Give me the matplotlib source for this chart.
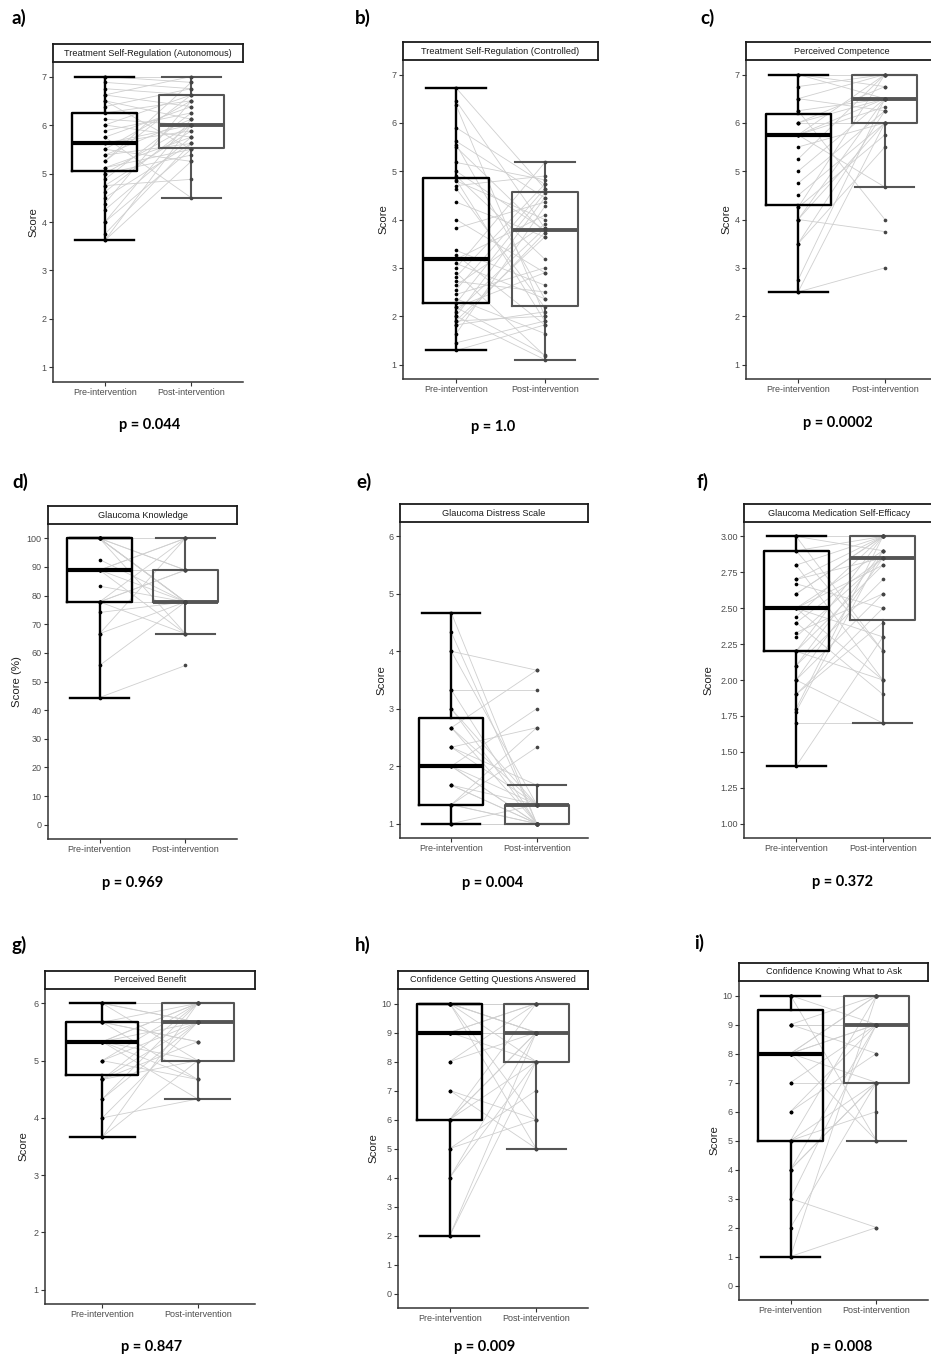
import numpy as np
import matplotlib
matplotlib.use('Agg')
import matplotlib.pyplot as plt

plt.rcParams['font.family'] = ['Liberation Sans', 'DejaVu Sans']

# ---------------- data ----------------
groups = ['Pre-intervention', 'Post-intervention']
letters = ['a)', 'b)', 'c)', 'd)', 'e)', 'f)', 'g)', 'h)', 'i)']
titles = ['Treatment Self-Regulation (Autonomous)', 'Treatment Self-Regulation (Controlled)',
          'Perceived Competence', 'Glaucoma Knowledge', 'Glaucoma Distress Scale',
          'Glaucoma Medication Self-Efficacy', 'Perceived Benefit',
          'Confidence Getting Questions Answered', 'Confidence Knowing What to Ask']
pvalues = ['p = 0.044', 'p = 1.0', 'p = 0.0002', 'p = 0.969', 'p = 0.004',
           'p = 0.372', 'p = 0.847', 'p = 0.009', 'p = 0.008']
ylabels = ['Score', 'Score', 'Score', 'Score (%)', 'Score', 'Score', 'Score', 'Score', 'Score']

# box statistics [whisker low, Q1, median, Q3, whisker high]
box_pre = [
    [3.62, 5.06, 5.62, 6.25, 7.0],
    [1.29, 2.27, 3.18, 4.86, 6.72],
    [2.5, 4.31, 5.75, 6.19, 7.0],
    [44.4, 77.8, 88.9, 100.0, 100.0],
    [1.0, 1.33, 2.0, 2.83, 4.67],
    [1.4, 2.2, 2.5, 2.9, 3.0],
    [3.67, 4.75, 5.33, 5.67, 6.0],
    [2.0, 6.0, 9.0, 10.0, 10.0],
    [1.0, 5.0, 8.0, 9.5, 10.0],
]
box_post = [
    [4.5, 5.53, 6.0, 6.62, 7.0],
    [1.1, 2.22, 3.78, 4.56, 5.18],
    [4.67, 6.0, 6.5, 7.0, 7.0],
    [66.7, 77.8, 77.8, 88.9, 100.0],
    [1.0, 1.0, 1.33, 1.33, 1.67],
    [1.7, 2.42, 2.85, 3.0, 3.0],
    [4.33, 5.0, 5.67, 6.0, 6.0],
    [5.0, 8.0, 9.0, 10.0, 10.0],
    [5.0, 7.0, 9.0, 10.0, 10.0],
]

pre_a = [7.0, 7.0, 6.88, 6.75, 6.62, 6.62, 6.5, 6.5, 6.38, 6.25, 6.12, 6.0, 6.0, 5.88, 5.75, 5.75, 5.62, 5.62, 5.5, 5.5,
         5.38, 5.38, 5.25, 5.12, 5.12, 5.0, 5.0, 4.88, 4.75, 4.75, 4.62, 4.5, 4.38, 4.25, 4.0, 4.0, 3.75, 3.62, 3.62, 5.25]
post_a = [7.0, 6.88, 6.75, 6.62, 6.38, 7.0, 6.12, 5.5, 6.75, 6.5, 6.0, 6.62, 5.75, 6.25, 4.5, 6.38, 6.0, 5.88, 6.5, 5.25,
          6.12, 5.62, 6.88, 5.5, 5.75, 6.0, 5.38, 6.25, 5.88, 4.88, 6.0, 5.62, 6.5, 5.75, 5.5, 6.12, 5.62, 5.25, 6.0, 6.62]

pre_b = [6.72, 6.45, 6.36, 5.9, 5.62, 5.55, 5.5, 5.18, 4.9, 4.82, 4.8, 4.7, 4.64, 4.36, 3.82, 3.36, 3.27, 3.18, 3.0, 2.9,
         2.82, 2.72, 2.64, 2.45, 2.36, 2.27, 2.18, 2.09, 2.0, 2.0, 1.9, 1.82, 1.82, 1.45, 1.29, 2.55, 3.09, 1.91, 2.18,
         4.0, 5.0, 1.64]
post_b = [4.64, 3.82, 2.0, 4.73, 4.45, 2.36, 3.73, 4.82, 3.18, 1.9, 4.0, 4.9, 2.18, 3.64, 4.36, 2.64, 1.82, 4.09, 5.18,
          1.18, 4.73, 2.5, 3.9, 3.0, 1.64, 4.55, 2.9, 3.82, 1.1, 4.45, 2.0, 3.73, 2.09, 1.9, 1.82, 4.64, 2.36, 3.64,
          1.2, 2.9, 3.78, 4.27]

pre_c = [7.0, 7.0, 6.75, 6.5, 6.5, 6.25, 6.25, 6.0, 6.0, 5.75, 5.75, 5.75, 5.75, 5.5, 5.25, 5.0, 4.75, 4.5, 4.25, 4.25,
         4.0, 4.0, 4.0, 3.5, 3.5, 2.75, 2.5, 2.5, 6.0, 7.0]
post_c = [7.0, 6.5, 7.0, 6.25, 7.0, 6.5, 4.0, 6.75, 6.0, 7.0, 4.67, 6.5, 6.33, 6.0, 7.0, 6.5, 6.25, 6.0, 5.75, 7.0,
          3.75, 6.5, 6.0, 6.25, 5.5, 6.5, 3.0, 6.0, 6.5, 6.75]

pre_d = [100, 100, 100, 100, 100, 100, 100, 92.6, 88.9, 88.9, 88.9, 88.9, 83.3, 77.8, 77.8, 77.8, 77.8, 74.1, 66.7,
         66.7, 55.6, 44.4, 100, 88.9, 77.8]
post_d = [77.8, 88.9, 66.7, 77.8, 100, 88.9, 77.8, 77.8, 100, 66.7, 77.8, 88.9, 77.8, 100, 66.7, 88.9, 77.8, 77.8, 100,
          77.8, 77.8, 55.6, 77.8, 100, 88.9]

pre_e = [4.67, 4.33, 4.0, 4.0, 3.33, 3.33, 3.0, 3.0, 2.67, 2.67, 2.33, 2.33, 2.0, 2.0, 2.0, 2.0, 1.67, 1.67, 1.33, 1.33,
         1.33, 1.33, 1.0, 1.0, 1.0, 2.33, 2.67, 1.67]
post_e = [1.0, 1.0, 3.67, 1.33, 3.33, 1.0, 1.33, 1.0, 1.0, 3.67, 2.67, 1.33, 1.0, 1.33, 3.0, 1.0, 1.33, 1.0, 2.33, 1.0,
          1.0, 2.67, 1.0, 1.33, 1.0, 1.67, 1.33, 1.0]

pre_f = [3.0, 3.0, 3.0, 2.9, 2.8, 2.8, 2.7, 2.67, 2.6, 2.5, 2.5, 2.5, 2.44, 2.4, 2.33, 2.3, 2.2, 2.2, 2.1, 2.0, 2.0,
         1.9, 1.8, 1.78, 1.7, 1.4, 2.9, 2.6, 2.4, 2.0, 2.2, 1.9, 2.5, 2.7, 2.1]
post_f = [3.0, 2.9, 2.2, 3.0, 2.0, 3.0, 2.85, 2.5, 3.0, 2.9, 2.3, 2.8, 3.0, 1.9, 2.6, 2.85, 2.0, 3.0, 2.7, 2.85, 1.7,
          2.4, 3.0, 2.9, 1.7, 2.3, 2.2, 3.0, 2.85, 2.6, 2.8, 2.5, 2.0, 3.0, 2.9]

pre_g = [6.0, 6.0, 6.0, 5.67, 5.67, 5.67, 5.67, 5.33, 5.33, 5.33, 5.33, 5.33, 5.0, 5.0, 5.0, 4.67, 4.67, 4.67, 4.67,
         4.33, 4.33, 4.0, 4.0, 3.67, 3.67, 5.33, 6.0, 5.67]
post_g = [6.0, 5.0, 5.67, 6.0, 4.67, 5.33, 5.67, 6.0, 4.33, 5.67, 5.0, 6.0, 5.67, 4.67, 6.0, 5.67, 5.0, 6.0, 5.33, 5.67,
          6.0, 4.33, 5.67, 5.0, 6.0, 4.67, 5.67, 5.33]

pre_h = [10, 10, 10, 10, 10, 10, 10, 9, 9, 9, 9, 9, 9, 8, 8, 7, 7, 6, 6, 6, 6, 5, 5, 4, 4, 2, 2, 10]
post_h = [10, 9, 8, 6, 9, 10, 5, 9, 10, 8, 9, 9, 10, 9, 10, 5, 6, 9, 8, 10, 9, 7, 6, 8, 9, 8, 9, 9]

pre_i = [10, 10, 10, 10, 9, 9, 9, 8, 8, 8, 8, 8, 8, 7, 7, 6, 6, 5, 5, 5, 4, 4, 4, 3, 3, 2, 1, 1, 9, 10]
post_i = [10, 9, 5, 10, 9, 8, 10, 9, 10, 7, 5, 9, 10, 9, 7, 9, 8, 7, 10, 6, 9, 7, 7, 9, 2, 7, 10, 2, 9, 10]

pre_all = [pre_a, pre_b, pre_c, pre_d, pre_e, pre_f, pre_g, pre_h, pre_i]
post_all = [post_a, post_b, post_c, post_d, post_e, post_f, post_g, post_h, post_i]

y_limits = [(1, 7), (1, 7), (1, 7), (0, 100), (1, 6), (1, 3), (1, 6), (0, 10), (0, 10)]
y_ticks = [list(range(1, 8)), list(range(1, 8)), list(range(1, 8)), list(range(0, 101, 10)),
           list(range(1, 7)), [1.0, 1.25, 1.5, 1.75, 2.0, 2.25, 2.5, 2.75, 3.0],
           list(range(1, 7)), list(range(0, 11)), list(range(0, 11))]
y_fmt = ['{:g}'] * 5 + ['{:.2f}'] + ['{:g}'] * 3

# ---------------- layout (pixels) ----------------
W, H = 931, 1357
fig = plt.figure(figsize=(W / 100, H / 100), dpi=100)

# data area: left, top, right, bottom
rects = [(53, 62, 243, 382), (403, 60, 598, 379), (746, 60, 937, 379),
         (48, 524, 237, 839), (400, 522, 588, 838), (744, 522, 935, 838),
         (45, 989, 255, 1304), (398, 989, 588, 1308), (739, 981, 928, 1300)]
letter_pos = [(12, 18), (355, 18), (700, 18), (12, 482), (356, 482), (697, 482),
              (12, 945), (355, 945), (694, 943)]
p_pos = [(150, 425), (493, 427), (838, 423), (133, 883), (493, 883), (842, 882),
         (152, 1347), (485, 1347), (842, 1347)]
ylabel_x = [33, 383, 726, 17, 381, 708, 23, 373, 714]
strip_h = 18


def frac(l, t, r, b):
    return [l / W, 1 - b / H, (r - l) / W, (b - t) / H]


def stats(s):
    return dict(whislo=s[0], q1=s[1], med=s[2], q3=s[3], whishi=s[4], fliers=[])


for k in range(9):
    l, t, r, b = rects[k]
    ax = fig.add_axes(frac(l, t, r, b))
    pre, post = pre_all[k], post_all[k]
    for y0, y1 in zip(pre, post):
        ax.plot([1, 2], [y0, y1], color='#cfcfcf', lw=0.6, zorder=1)

    for pos, st, col, lw in [(1, box_pre[k], '#000000', 1.7), (2, box_post[k], '#555555', 1.5)]:
        ax.bxp([stats(st)], positions=[pos], widths=0.75, capwidths=0.68, showfliers=False,
               manage_ticks=False, zorder=2,
               boxprops=dict(color=col, lw=lw),
               whiskerprops=dict(color=col, lw=lw),
               capprops=dict(color=col, lw=lw),
               medianprops=dict(color=col, lw=lw + 1.3, solid_capstyle='butt'))

    ax.scatter(np.full(len(pre), 1.0), pre, s=7, color='#000000', zorder=3, linewidths=0)
    ax.scatter(np.full(len(post), 2.0), post, s=7, color='#444444', zorder=3, linewidths=0)

    lo, hi = y_limits[k]
    pad = 0.05 * (hi - lo)
    ax.set_ylim(lo - pad, hi + pad)
    ax.set_xlim(0.4, 2.6)
    ax.set_yticks(y_ticks[k])
    ax.set_yticklabels([y_fmt[k].format(v) for v in y_ticks[k]])
    ax.set_xticks([1, 2])
    ax.set_xticklabels(groups)
    ax.tick_params(axis='both', length=3, width=0.8, color='#333333', labelsize=6.5,
                   labelcolor='#4d4d4d', pad=1.5)
    for sp in ['top', 'right']:
        ax.spines[sp].set_visible(False)
    for sp in ['left', 'bottom']:
        ax.spines[sp].set_color('#333333')
        ax.spines[sp].set_linewidth(1.1)
    ax.set_ylabel(ylabels[k], fontsize=8.2, color='#222222')
    ax.yaxis.set_label_coords((ylabel_x[k] + 5 - l) / (r - l), 0.5)

    sax = fig.add_axes(frac(l, t - strip_h, r, t))
    sax.set_xticks([])
    sax.set_yticks([])
    for sp in sax.spines.values():
        sp.set_linewidth(1.3)
        sp.set_color('#1a1a1a')
    sax.text(0.5, 0.5, titles[k], ha='center', va='center', fontsize=6.6, color='#1a1a1a',
             transform=sax.transAxes)

    lx, ly = letter_pos[k]
    fig.text(lx / W, 1 - ly / H, letters[k], ha='left', va='center', fontsize=13.5,
             fontweight='bold', family=['Lato', 'DejaVu Sans'])
    px, py = p_pos[k]
    fig.text(px / W, 1 - py / H, pvalues[k], ha='center', va='center', fontsize=10.5,
             fontweight='bold', family=['Lato', 'DejaVu Sans'])

fig.savefig('out.png', dpi=100, facecolor='white')
